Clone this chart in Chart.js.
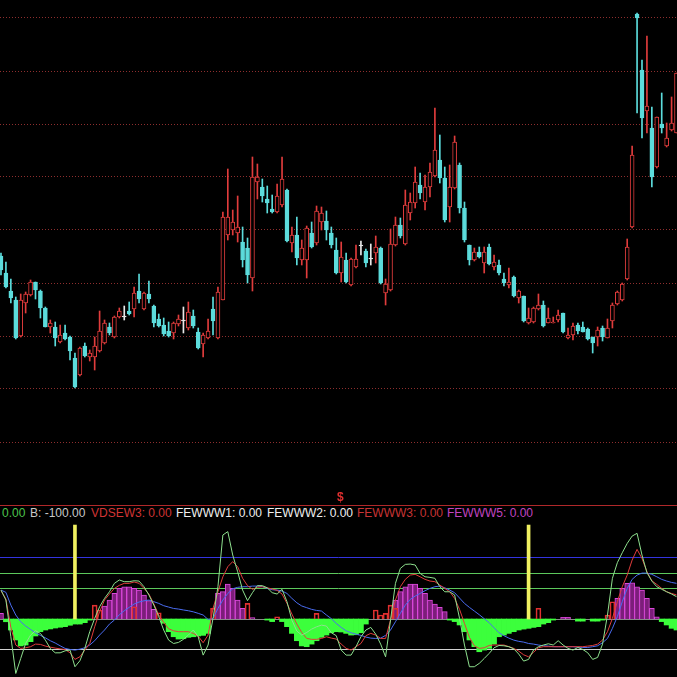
<!DOCTYPE html>
<html>
<head>
<meta charset="utf-8">
<script src="https://cdn.jsdelivr.net/npm/chart.js@4.4.0/dist/chart.umd.min.js"></script>
<style>
    body { margin: 0; background: #000; }
    .wrap { position: relative; width: 677px; height: 677px; background: #000; overflow: hidden; font-family: "Liberation Sans", Arial, sans-serif; }
    #price__chart { position: absolute; left: 0; top: 0; }
    #osc__chart { position: absolute; left: 0; top: 520px; }
    .sep { position: absolute; left: 0; top: 505px; width: 677px; height: 1px; background: #b0282a; }
    .dollar { position: absolute; left: 337px; top: 490px; color: #e03030; font-size: 12px; font-weight: bold; }
    .legend span { position: absolute; top: 506px; font-size: 12px; white-space: nowrap; }
</style>
</head>
<body>
<div class="wrap">
    <canvas id="price__chart" width="677" height="500"></canvas>
    <div class="sep"></div>
    <div class="dollar">$</div>
    <div class="legend">
        <span style="left:2px;color:#4cc44c">0.00</span>
        <span style="left:30px;color:#c8c8c8">B: -100.00</span>
        <span style="left:91px;color:#d03434">VDSEW3: 0.00</span>
        <span style="left:176px;color:#f0f0f0">FEWWW1: 0.00</span>
        <span style="left:267px;color:#f0f0f0">FEWWW2: 0.00</span>
        <span style="left:357px;color:#c83434">FEWWW3: 0.00</span>
        <span style="left:447px;color:#c044c0">FEWWW5: 0.00</span>
    </div>
    <canvas id="osc__chart" width="677" height="157"></canvas>
</div>
<script>
const _ = null;

// candles
const opens = [
    7.44, 7.27, 7.09, 7.00, 6.64, 6.97, 7.05, 7.18, 7.09, 6.92,
    6.73, 6.73, 6.58, 6.67, 6.63, 6.42, 6.25, 6.54, 6.43, 6.43,
    6.49, 6.57, 6.73, 6.63, 6.83, 6.83, 6.89, 6.91, 7.09, 6.91,
    7.06, 6.94, 6.81, 6.75, 6.69, 6.67, 6.76, 6.79, 6.72, 6.84,
    6.68, 6.56, 6.62, 6.91, 6.62, 7.00, 7.65, 7.70, 7.67, 7.58,
    7.52, 7.22, 8.18, 8.13, 8.01, 7.91, 7.88, 7.95, 8.10, 7.57,
    7.65, 7.40, 7.40, 7.67, 7.57, 7.78, 7.79, 7.67, 7.50, 7.27,
    7.40, 7.15, 7.33, 7.54, 7.49, 7.41, 7.47, 7.52, 7.07, 7.10,
    7.55, 7.75, 7.56, 7.87, 7.97, 8.15, 7.98, 8.13, 8.24, 8.40,
    8.22, 7.93, 8.12, 8.35, 7.92, 7.55, 7.40, 7.48, 7.37, 7.53,
    7.33, 7.35, 7.21, 7.15, 7.23, 7.02, 7.04, 6.77, 6.78, 6.91,
    6.95, 6.77, 6.77, 6.80, 6.87, 6.62, 6.65, 6.75, 6.73, 6.71,
    6.63, 6.63, 6.72, 6.62, 6.79, 6.96, 7.00, 7.21, 7.73, 9.86,
    9.30, 8.89, 8.72, 8.33, 8.76, 8.54, 8.70, 8.67
];
const closes = [
    7.30, 7.13, 7.02, 6.62, 7.00, 7.06, 7.18, 7.10, 6.92, 6.73,
    6.77, 6.62, 6.65, 6.61, 6.49, 6.13, 6.52, 6.44, 6.47, 6.54,
    6.69, 6.77, 6.67, 6.83, 6.89, 6.83, 6.86, 7.07, 7.01, 7.07,
    7.01, 6.77, 6.74, 6.66, 6.64, 6.77, 6.81, 6.79, 6.88, 6.74,
    6.52, 6.65, 6.69, 6.79, 7.08, 7.83, 7.83, 7.78, 7.73, 7.40,
    7.25, 8.23, 8.23, 8.04, 7.97, 7.88, 8.04, 8.21, 7.59, 7.65,
    7.42, 7.52, 7.72, 7.53, 7.89, 7.87, 7.70, 7.55, 7.27, 7.43,
    7.18, 7.41, 7.41, 7.54, 7.37, 7.41, 7.53, 7.17, 7.16, 7.56,
    7.75, 7.64, 7.95, 7.98, 8.18, 8.07, 8.13, 8.28, 8.50, 8.22,
    7.80, 8.13, 8.58, 7.92, 7.60, 7.40, 7.48, 7.43, 7.48, 7.36,
    7.38, 7.27, 7.17, 7.18, 7.04, 7.09, 6.79, 6.82, 6.92, 6.95,
    6.74, 6.82, 6.78, 6.85, 6.68, 6.65, 6.74, 6.69, 6.68, 6.61,
    6.57, 6.70, 6.63, 6.72, 6.95, 7.08, 7.16, 7.53, 8.45, 9.82,
    8.82, 8.94, 8.23, 8.83, 8.72, 8.62, 8.77, 9.27
];
const highs = [
    7.47, 7.38, 7.21, 7.03, 7.06, 7.08, 7.20, 7.18, 7.10, 6.93,
    6.80, 6.78, 6.75, 6.75, 6.64, 6.47, 6.53, 6.57, 6.50, 6.63,
    6.89, 6.80, 6.77, 6.84, 6.92, 6.94, 6.98, 7.13, 7.26, 7.08,
    7.19, 6.95, 6.86, 6.82, 6.78, 6.78, 6.85, 6.93, 6.98, 6.90,
    6.72, 6.67, 6.81, 7.03, 7.13, 7.88, 8.31, 7.90, 8.04, 7.73,
    7.62, 8.43, 8.36, 8.21, 8.14, 8.05, 8.16, 8.43, 8.11, 7.73,
    7.83, 7.60, 7.74, 7.78, 7.94, 7.93, 7.89, 7.73, 7.62, 7.58,
    7.47, 7.42, 7.55, 7.59, 7.51, 7.56, 7.64, 7.53, 7.21, 7.71,
    7.83, 7.82, 8.10, 8.07, 8.33, 8.27, 8.25, 8.37, 8.92, 8.65,
    8.33, 8.35, 8.64, 8.37, 7.98, 7.55, 7.52, 7.53, 7.53, 7.56,
    7.45, 7.40, 7.27, 7.32, 7.24, 7.10, 7.04, 6.92, 6.93, 7.06,
    6.99, 6.92, 6.83, 6.90, 6.87, 6.72, 6.77, 6.77, 6.78, 6.72,
    6.63, 6.73, 6.74, 6.81, 6.97, 7.09, 7.17, 7.61, 8.54, 9.87,
    9.40, 9.64, 8.93, 8.83, 9.07, 8.77, 9.03, 9.27
];
const lows = [
    7.25, 7.12, 6.97, 6.61, 6.63, 6.87, 7.04, 7.01, 6.82, 6.73,
    6.67, 6.54, 6.57, 6.60, 6.40, 6.12, 6.24, 6.43, 6.39, 6.30,
    6.48, 6.56, 6.65, 6.62, 6.82, 6.80, 6.85, 6.83, 6.97, 6.90,
    6.97, 6.73, 6.73, 6.64, 6.63, 6.61, 6.74, 6.67, 6.70, 6.72,
    6.51, 6.43, 6.61, 6.65, 6.61, 7.00, 7.60, 7.65, 7.58, 7.33,
    7.17, 7.09, 8.01, 7.98, 7.87, 7.87, 7.87, 7.93, 7.58, 7.48,
    7.35, 7.35, 7.22, 7.52, 7.55, 7.70, 7.60, 7.52, 7.26, 7.18,
    7.17, 7.14, 7.32, 7.45, 7.33, 7.35, 7.37, 7.16, 6.95, 7.09,
    7.54, 7.62, 7.55, 7.80, 7.92, 8.01, 7.90, 8.03, 8.23, 8.17,
    7.78, 7.78, 8.11, 7.87, 7.58, 7.35, 7.39, 7.42, 7.27, 7.35,
    7.30, 7.25, 7.14, 7.12, 7.03, 6.97, 6.78, 6.76, 6.77, 6.90,
    6.73, 6.77, 6.77, 6.78, 6.67, 6.61, 6.60, 6.66, 6.68, 6.60,
    6.47, 6.54, 6.59, 6.62, 6.72, 6.95, 6.99, 7.20, 7.72, 8.87,
    8.62, 8.67, 8.13, 8.32, 8.67, 8.53, 8.69, 8.67
];
const priceGrid = [5.58, 6.11, 6.64, 7.17, 7.70, 8.23, 8.76, 9.29, 9.82];

// indicator panel
const lineG = [
    38.9, 32.4, 8.4, -15.6, -5.8, 4.0, 9.5, 12.3, 10.6, 6.2,
    0.8, -2.1, -2.1, -0.8, -0.3, -11.2, -7.3, 0.8, 11.7, 20.4,
    28.0, 33.5, 37.8, 43.3, 45.5, 44.4, 44.4, 45.0, 44.8, 41.1,
    35.7, 29.1, 21.5, 12.8, 6.2, 4.0, 4.7, 6.7, 9.5, 12.8,
    8.4, -3.6, 3.0, 20.4, 41.1, 74.9, 77.1, 61.8, 50.9, 38.9,
    32.0, 37.2, 41.8, 41.8, 40.4, 37.2, 36.3, 39.4, 31.3, 19.3,
    12.1, 9.5, 11.2, 13.4, 14.9, 16.0, 15.4, 11.0, 9.1, -0.3,
    -3.6, -3.6, 1.9, 8.4, 12.8, 14.5, 10.1, 3.6, -4.7, 19.3,
    43.3, 53.1, 55.7, 55.9, 55.3, 49.8, 47.6, 47.2, 46.6, 41.1,
    37.8, 37.8, 35.7, 20.4, 3.0, -11.2, -11.2, -9.0, -5.8, -2.5,
    1.2, 2.7, 2.5, 1.9, 0.5, -2.9, -7.5, -6.4, -0.3, 1.9,
    3.0, 3.8, 3.0, 5.8, 3.0, 0.8, -0.3, 1.4, 0.1, -2.1,
    -6.4, -5.1, 3.6, 22.6, 46.6, 56.8, 63.3, 69.4, 74.2, 76.0,
    61.8, 50.3, 44.8, 41.1, 39.4, 37.8, 36.3, 34.6
];
const lineR = [
    38.5, 33.0, 14.5, 3.0, 0.8, 1.2, 1.9, 3.6, 3.4, 2.3,
    1.6, 1.0, 0.5, 0.1, -2.1, -6.4, -4.7, -0.3, 4.0, 14.9,
    24.7, 32.4, 36.3, 40.0, 42.0, 43.3, 43.3, 44.2, 43.3, 40.0,
    36.3, 29.8, 22.6, 17.8, 13.6, 12.3, 11.7, 11.7, 11.7, 10.6,
    8.8, 4.5, 9.5, 26.9, 37.8, 47.6, 54.2, 57.5, 54.2, 46.6,
    41.8, 39.4, 40.7, 41.1, 40.4, 39.6, 38.7, 36.3, 30.2, 23.2,
    16.7, 11.2, 7.3, 6.7, 6.7, 7.3, 8.4, 7.5, 6.9, 3.6,
    0.8, -0.3, 1.9, 4.0, 9.1, 10.6, 9.5, 7.3, 7.3, 19.3,
    32.4, 41.1, 45.9, 48.7, 49.2, 47.6, 45.9, 44.8, 44.4, 42.2,
    40.0, 37.8, 33.5, 26.3, 17.1, 8.0, 2.5, 0.8, 1.2, 2.7,
    3.0, 3.0, 3.0, 1.9, 0.8, -1.0, -3.4, -4.7, -1.8, 1.2,
    1.9, 1.9, 1.9, 1.9, 1.9, 1.9, 1.9, 1.9, 1.9, 2.3,
    2.7, 3.6, 6.2, 11.7, 20.4, 31.3, 41.1, 48.7, 58.5, 65.5,
    59.6, 50.9, 45.0, 42.6, 40.0, 37.8, 36.7, 35.7
];
const lineB = [
    38.9, 37.4, 29.1, 22.6, 18.2, 15.4, 13.2, 11.0, 9.3, 7.7,
    5.8, 4.3, 2.5, 0.8, 0.1, -0.3, 0.3, 1.2, 3.0, 5.8,
    9.5, 12.8, 16.7, 19.3, 22.8, 25.4, 27.6, 29.8, 31.1, 31.9,
    32.4, 31.3, 30.2, 28.7, 27.8, 26.9, 26.5, 25.9, 25.4, 24.7,
    23.7, 22.6, 19.7, 20.2, 26.9, 32.4, 36.7, 39.8, 40.7, 41.1,
    41.1, 41.5, 41.5, 41.1, 40.0, 39.1, 38.9, 38.3, 36.7, 33.5,
    30.6, 28.5, 27.4, 26.3, 25.6, 25.2, 22.6, 20.2, 17.1, 14.5,
    12.3, 11.0, 10.1, 9.3, 8.2, 7.5, 7.3, 7.5, 9.3, 12.8,
    18.2, 23.7, 29.1, 32.8, 35.0, 36.7, 38.5, 40.0, 41.1, 41.5,
    40.4, 38.9, 37.2, 33.7, 30.2, 27.6, 25.2, 22.8, 20.2, 17.6,
    14.3, 11.0, 9.1, 7.5, 6.2, 5.4, 4.9, 4.0, 3.6, 3.0,
    2.5, 2.3, 1.9, 1.9, 1.9, 1.9, 1.9, 1.6, 1.4, 1.4,
    1.9, 2.5, 4.5, 7.3, 13.9, 21.5, 31.3, 40.0, 45.9, 48.7,
    50.0, 50.0, 49.2, 47.6, 45.9, 44.8, 43.9, 43.3
];
const histMagenta = [
    23.7, _, _, _, _, _, _, _, _, _,
    _, _, _, _, _, _, _, _, _, _,
    _, 28.5, 32.4, 36.8, 40.0, 41.1, 41.1, 40.0, 38.9, 35.7,
    32.0, 26.3, _, _, _, _, _, _, _, _,
    _, _, _, _, 36.8, 37.9, 42.8, 40.0, 32.4, 27.0,
    _, 21.0, _, _, _, _, _, _, _, _,
    _, _, _, _, _, _, _, _, _, _,
    _, _, _, _, _, _, _, _, _, _,
    32.4, 37.9, 41.1, 42.8, 42.8, 40.0, 36.8, 32.4, 29.8, 27.6,
    24.8, _, _, _, _, _, _, _, _, _,
    _, _, _, _, _, _, _, _, _, _,
    _, _, _, _, 21.1, 21.1, _, _, _, _,
    _, _, _, _, _, 33.5, 40.0, 43.3, 43.7, 41.1,
    38.9, 33.5, 27.0, 21.5, _, _, _, _
];
const histRed = [
    _, _, _, _, _, _, _, _, _, _,
    _, _, _, _, _, _, _, _, _, 29.1,
    25.9, _, _, _, _, _, _, 28.0, _, _,
    _, _, 24.1, _, _, _, _, _, _, _,
    _, _, _, 27.0, _, _, _, _, _, _,
    30.2, _, _, _, _, _, 21.5, _, _, _,
    _, _, _, _, 23.7, _, _, _, _, _,
    _, _, _, _, _, _, 25.9, 22.6, 23.7, 29.1,
    27.0, _, _, _, _, _, _, _, _, _,
    _, _, _, _, _, _, _, _, _, _,
    _, _, _, _, _, _, _, _, _, 27.0,
    _, _, _, _, _, _, _, _, _, _,
    _, _, _, 22.6, 31.3, _, _, _, _, _,
    _, _, _, _, _, _, _, _
];
const histGreen = [
    _, 18.2, 12.8, 6.3, 2.4, 3.0, 5.2, 8.9, 11.7, 12.8,
    13.5, 14.1, 14.6, 15.0, 15.9, 16.7, 16.7, 17.6, 19.3, _,
    _, _, _, _, _, _, _, _, _, _,
    _, _, _, 17.2, 11.7, 8.4, 6.9, 7.1, 8.0, 8.4,
    8.9, 9.3, 10.6, _, _, _, _, _, _, _,
    _, _, _, _, 19.3, 18.3, _, 18.3, 15.0, 10.6,
    5.8, 2.4, 1.9, 3.6, 5.8, 8.0, 9.5, 11.0, 11.7, 11.5,
    10.6, 9.5, 9.7, 11.0, 16.7, _, _, _, _, _,
    _, _, _, _, _, _, _, _, _, _,
    _, 19.3, 18.3, 16.1, 11.7, 6.3, 1.9, -1.4, -0.3, 0.8,
    3.6, 8.4, 9.5, 10.6, 11.7, 12.8, 13.4, 13.9, 14.5, 15.0,
    16.7, 17.6, 19.3, _, _, _, _, 18.6, 18.6, _,
    18.6, 18.6, 19.3, _, _, _, _, _, _, _,
    _, _, _, _, 18.3, 16.1, 13.9, 12.8
];
const signalIdx = [15, 107];
const signalTop = 81.4;
const histBase = 20;
const oscLevels = [0, 20, 40, 50, 60];
const oscLevelColors = ['#d2d2d2', '#8a8a8a', '#5cc85c', '#5cc85c', '#3434e0'];

const UP = '#e03c3c';
const DOWN = '#5cdcdc';
const FLAT = '#e8e8e8';

function candleColor(i) {
    if (closes[i] > opens[i]) return UP;
    if (closes[i] < opens[i]) return DOWN;
    return FLAT;
}

function xScale() {
    return { type: 'linear', display: false, offset: false, min: -0.2, max: 137.1 };
}

function priceChart() {
    const wicks = highs.map((h, i) => ({ x: i, y: [lows[i], h] }));
    const bodies = opens.map((o, i) => ({ x: i, y: [o, closes[i]] }));
    const colors = opens.map((o, i) => candleColor(i));

    new Chart(document.getElementById('price__chart'), {
        type: 'bar',
        data: {
            datasets: [{
                data: wicks,
                backgroundColor: colors,
                barThickness: 1,
                grouped: false,
                order: 2
            }, {
                data: bodies,
                backgroundColor: colors.map(c => c === UP ? '#000' : c),
                borderColor: colors,
                borderWidth: 1,
                borderSkipped: false,
                barThickness: 4,
                minBarLength: 1,
                grouped: false,
                order: 1
            }]
        },
        options: {
            responsive: false,
            animation: false,
            layout: { padding: 0 },
            plugins: { legend: { display: false }, tooltip: { enabled: false } },
            scales: {
                x: xScale(),
                y: {
                    min: 5.0,
                    max: 10.0,
                    ticks: { display: false },
                    afterBuildTicks: axis => { axis.ticks = priceGrid.map(v => ({ value: v })); },
                    grid: { color: '#8e2e2e', drawTicks: false },
                    border: { display: false, dash: [1, 2] }
                }
            }
        }
    });
}

function oscChart() {
    const pts = arr => arr.map((v, i) => ({ x: i, y: v }));
    const floating = arr => arr.map((v, i) => ({ x: i, y: v === null ? null : [histBase, v] }));
    const signals = lineG.map((v, i) => ({ x: i, y: signalIdx.includes(i) ? [histBase, signalTop] : null }));

    new Chart(document.getElementById('osc__chart'), {
        type: 'bar',
        data: {
            datasets: [{
                data: floating(histGreen),
                backgroundColor: '#3cff3c',
                barThickness: 5,
                grouped: false,
                order: 9
            }, {
                // magenta sticks: bright edges, darker inside
                data: floating(histMagenta),
                backgroundColor: '#7c1e7a',
                borderColor: '#dc48dc',
                borderWidth: 1,
                borderSkipped: 'start',
                barThickness: 5,
                grouped: false,
                order: 8
            }, {
                data: floating(histRed),
                backgroundColor: 'rgba(0,0,0,0)',
                borderColor: '#e03030',
                borderWidth: 1,
                borderSkipped: 'start',
                barThickness: 5,
                grouped: false,
                order: 7
            }, {
                data: signals,
                backgroundColor: '#f0f060',
                barThickness: 3,
                grouped: false,
                order: 6
            }, {
                type: 'line',
                data: pts(lineB),
                borderColor: '#4a6cf0',
                borderWidth: 1,
                pointRadius: 0,
                order: 3
            }, {
                type: 'line',
                data: pts(lineR),
                borderColor: '#e03c3c',
                borderWidth: 1,
                pointRadius: 0,
                order: 2
            }, {
                type: 'line',
                data: pts(lineG),
                borderColor: '#8ee08e',
                borderWidth: 1,
                pointRadius: 0,
                order: 1
            }]
        },
        options: {
            responsive: false,
            animation: false,
            layout: { padding: 0 },
            plugins: { legend: { display: false }, tooltip: { enabled: false } },
            scales: {
                x: xScale(),
                y: {
                    min: -17.9,
                    max: 84.7,
                    ticks: { display: false },
                    afterBuildTicks: axis => { axis.ticks = oscLevels.map(v => ({ value: v })); },
                    grid: {
                        drawTicks: false,
                        color: ctx => oscLevelColors[oscLevels.indexOf(ctx.tick.value)] || '#000'
                    },
                    border: { display: false }
                }
            }
        }
    });
}

priceChart();
oscChart();
</script>
</body>
</html>
